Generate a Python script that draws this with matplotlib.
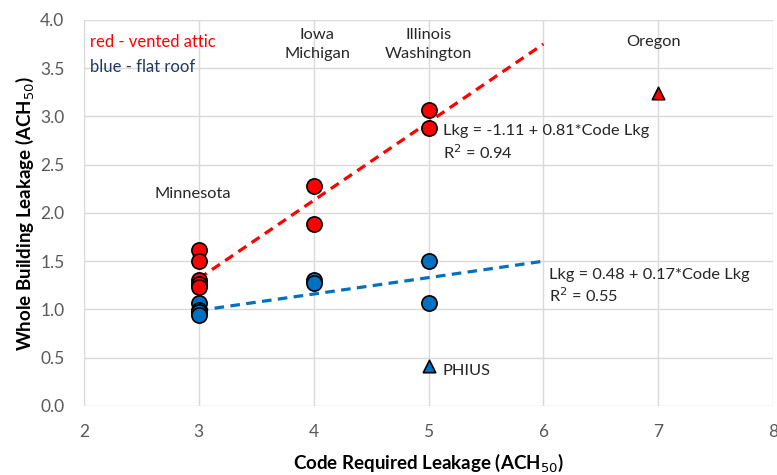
import matplotlib
matplotlib.use("Agg")
import matplotlib.pyplot as plt
import numpy as np

plt.rcParams['font.family'] = ['Lato', 'DejaVu Sans']

# Data
red_x = [3, 3, 3, 3, 3, 4, 4, 5, 5]
red_y = [1.62, 1.50, 1.31, 1.26, 1.23, 2.28, 1.89, 3.07, 2.88]
blue_x = [3, 3, 3, 3, 4, 4, 5, 5]
blue_y = [1.07, 0.99, 0.97, 0.94, 1.31, 1.27, 1.50, 1.07]
oregon_x, oregon_y = [7], [3.24]
phius_x, phius_y = [5], [0.41]
red_fit = (-1.11, 0.81)
blue_fit = (0.48, 0.17)
fit_range = [3, 6]
xticks = [2, 3, 4, 5, 6, 7, 8]
yticks = [0.0, 0.5, 1.0, 1.5, 2.0, 2.5, 3.0, 3.5, 4.0]

RED = '#FF0000'
BLUE = '#0070C0'

fig = plt.figure(figsize=(7.77, 4.75), dpi=100)
ax = fig.add_axes([0.108, 0.1453, 0.887, 0.8127])

fx = np.array(fit_range, dtype=float)
ax.plot(fx, red_fit[0] + red_fit[1] * fx, ls=(0, (3, 2)), color=RED, lw=2.3, zorder=2)
ax.plot(fx, blue_fit[0] + blue_fit[1] * fx, ls=(0, (3, 2)), color=BLUE, lw=2.3, zorder=2)

ax.scatter(red_x, red_y, s=120, c=RED, edgecolors='black', linewidths=1.2, zorder=3)
ax.scatter(blue_x, blue_y, s=120, c=BLUE, edgecolors='black', linewidths=1.2, zorder=3)
ax.scatter(oregon_x, oregon_y, s=80, marker='^', c=RED, edgecolors='black', linewidths=1.2, zorder=3)
ax.scatter(phius_x, phius_y, s=80, marker='^', c=BLUE, edgecolors='black', linewidths=1.2, zorder=3)

ax.set_xlim(2, 8)
ax.set_ylim(0, 4)
ax.set_xticks(xticks)
ax.set_yticks(yticks)
ax.set_yticklabels([f'{v:.1f}' for v in yticks])
ax.grid(True, color='#D9D9D9', lw=1.0, zorder=0)
ax.set_axisbelow(True)
for s in ax.spines.values():
    s.set_visible(False)
ax.tick_params(length=0, labelsize=12.5, labelcolor='#595959')
ax.tick_params(axis='y', pad=14)
ax.tick_params(axis='x', pad=13)

ax.set_xlabel('Code Required Leakage (ACH$_{50}$)', fontsize=13.5, fontweight='bold')
ax.set_ylabel('Whole Building Leakage (ACH$_{50}$)', fontsize=13.5, fontweight='bold')
ax.xaxis.set_label_coords(0.5, -0.148)
ax.yaxis.set_label_coords(-0.0856, 0.5)
ax.xaxis.label.set_va('center')
ax.yaxis.label.set_va('center')

tc = '#262626'
fs = 11.8
ax.text(2.05, 3.77, 'red - vented attic', color=RED, fontsize=12, va='center')
ax.text(2.05, 3.51, 'blue - flat roof', color='#1F3864', fontsize=12, va='center')
ax.text(2.95, 2.20, 'Minnesota', color=tc, fontsize=fs, ha='center', va='center')
ax.text(4.03, 3.75, 'Iowa\nMichigan', color=tc, fontsize=fs, ha='center', va='center', linespacing=1.45)
ax.text(5.0, 3.75, 'Illinois\nWashington', color=tc, fontsize=fs, ha='center', va='center', linespacing=1.45)
ax.text(6.96, 3.77, 'Oregon', color=tc, fontsize=fs, ha='center', va='center')
ax.text(5.13, 2.85, 'Lkg = -1.11 + 0.81*Code Lkg', color=tc, fontsize=fs, va='center')
ax.text(5.13, 2.62, 'R$^2$ = 0.94', color=tc, fontsize=fs, va='center')
ax.text(6.05, 1.36, 'Lkg = 0.48 + 0.17*Code Lkg', color=tc, fontsize=fs, va='center')
ax.text(6.05, 1.14, 'R$^2$ = 0.55', color=tc, fontsize=fs, va='center')
ax.text(5.12, 0.36, 'PHIUS', color=tc, fontsize=fs, va='center')

fig.savefig('out.png', dpi=100)
